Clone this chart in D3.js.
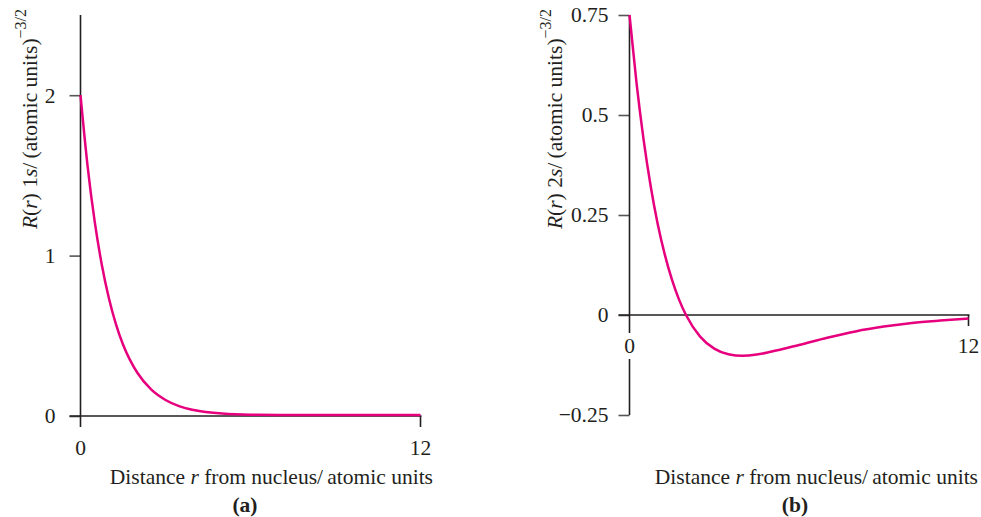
<!DOCTYPE html>
<html>
<head>
	<title>Radial wave functions</title>
	<script src="https://cdn.jsdelivr.net/npm/d3@7/dist/d3.min.js"></script>
	<style type="text/css">
		body { margin: 0; background: #fff; }
		svg text { font-family: 'Liberation Serif', 'DejaVu Serif', serif; fill: #231f20; }
	</style>
</head>
<body>

	<svg width=981 height=517 class="orbitals"></svg>
	<script type="text/javascript">

		// distance r (atomic units) where the curves were read
		r_1s = [0, 0.25, 0.5, 0.75, 1, 1.25, 1.5, 1.75, 2, 2.5, 3, 3.5, 4, 5, 6, 7, 8, 10, 12]
		R_1s = [2.0, 1.558, 1.213, 0.945, 0.736, 0.573, 0.446, 0.348, 0.271, 0.164, 0.100, 0.060, 0.037, 0.015, 0.008, 0.007, 0.007, 0.007, 0.007]

		r_2s = [0, 0.25, 0.5, 0.75, 1, 1.25, 1.5, 1.75, 2, 2.5, 3, 3.5, 4, 4.5, 5, 6, 7, 8, 9, 10, 11, 12]
		R_2s = [0.75, 0.579, 0.438, 0.322, 0.227, 0.151, 0.089, 0.039, 0.0, -0.054, -0.084, -0.098, -0.102, -0.099, -0.092, -0.075, -0.057, -0.041, -0.029, -0.020, -0.014, -0.009]

		xticks = [0, 12]
		yticks_a = [0, 1, 2]
		yticks_b = [-0.25, 0, 0.25, 0.5, 0.75]
		ytick_labels_b = ['\u22120.25', '0', '0.25', '0.5', '0.75']

		curve_color = '#e6007e'
		axis_color = '#231f20'
		fs = 21.5
		svg = d3.select('.orbitals')

		function yTitle(g, x, y, orb){
			t = g.append('text')
				.attr('transform', 'translate('+x+','+y+') rotate(-90)')
				.attr('text-anchor', 'middle')
				.attr('font-size', fs)
			t.append('tspan').attr('font-style', 'italic').text('R')
			t.append('tspan').text('(')
			t.append('tspan').attr('font-style', 'italic').text('r')
			t.append('tspan').text(') ' + orb[0])
			t.append('tspan').attr('font-style', 'italic').text(orb[1])
			t.append('tspan').text('/\u2009(atomic units)')
			t.append('tspan').attr('font-size', 16).attr('dy', -11).text('\u22123/2')
		}

		function xTitle(g, x, y, letter, cx){
			t = g.append('text')
				.attr('x', x).attr('y', y)
				.attr('text-anchor', 'end')
				.attr('font-size', fs)
			t.append('tspan').text('Distance ')
			t.append('tspan').attr('font-style', 'italic').text('r')
			t.append('tspan').text(' from nucleus/\u2009atomic units')
			g.append('text')
				.attr('x', cx).attr('y', y + 28)
				.attr('text-anchor', 'middle')
				.attr('font-size', fs)
				.attr('font-weight', 'bold')
				.text('(' + letter + ')')
		}

		function drawCurve(g, xs, ys, x, y){
			pts = xs.map(function(d, i){ return [d, ys[i]] })
			g.append('path')
				.datum(pts)
				.attr('fill', 'none')
				.attr('stroke', curve_color)
				.attr('stroke-width', 2.5)
				.attr('d', d3.line()
					.x(function(d){ return x(d[0]) })
					.y(function(d){ return y(d[1]) })
					.curve(d3.curveMonotoneX))
		}

		function line(g, x1, y1, x2, y2){
			g.append('line')
				.attr('x1', x1).attr('y1', y1)
				.attr('x2', x2).attr('y2', y2)
				.attr('stroke', axis_color)
				.attr('stroke-width', 1.6)
		}

		function styleAxis(ax){
			ax.select('.domain').remove()
			ax.selectAll('.tick line').attr('stroke', '#555').attr('stroke-width', 1.6)
			ax.selectAll('.tick text')
				.attr('font-family', "'Liberation Serif', serif")
				.attr('font-size', fs)
				.attr('fill', '#231f20')
		}

		// ---- panel (a) : 1s ----
		ga = svg.append('g')
		xa = d3.scaleLinear().domain([0, 12]).range([80.5, 420.5])
		ya = d3.scaleLinear().domain([0, 2.5]).range([416, 15])

		axa = ga.append('g')
			.attr('transform', 'translate(80.5,0)')
			.call(d3.axisLeft(ya).tickValues(yticks_a).tickSize(11).tickPadding(14).tickFormat(d3.format('d')))
		styleAxis(axa)

		line(ga, xa(0), ya(2.5), xa(0), ya(0) + 11)
		line(ga, xa(0) - 11, ya(0), xa(12) + 1, ya(0))
		line(ga, xa(12), ya(0), xa(12), ya(0) + 11)

		ga.selectAll('.xlab')
			.data(xticks)
			.enter()
			.append('text')
			.attr('x', function(d){ return xa(d) })
			.attr('y', ya(0) + 39)
			.attr('text-anchor', 'middle')
			.attr('font-size', fs)
			.text(function(d){ return d })

		drawCurve(ga, r_1s, R_1s, xa, ya)
		yTitle(ga, 37, 119, ['1', 's'])
		xTitle(ga, 433, 484, 'a', 245)

		// ---- panel (b) : 2s ----
		gb = svg.append('g')
		xb = d3.scaleLinear().domain([0, 12]).range([629.5, 968.5])
		yb = d3.scaleLinear().domain([-0.25, 0.75]).range([415, 15])

		axb = gb.append('g')
			.attr('transform', 'translate(629.5,0)')
			.call(d3.axisLeft(yb).tickValues(yticks_b).tickSize(11).tickPadding(10)
				.tickFormat(function(d, i){ return ytick_labels_b[i] }))
		styleAxis(axb)

		line(gb, xb(0), yb(0.75), xb(0), yb(0) + 18)
		line(gb, xb(0), yb(0) + 44, xb(0), yb(-0.25))
		line(gb, xb(0) - 11, yb(0), xb(12) + 1, yb(0))
		line(gb, xb(12), yb(0), xb(12), yb(0) + 11)

		gb.selectAll('.xlab')
			.data(xticks)
			.enter()
			.append('text')
			.attr('x', function(d){ return xb(d) })
			.attr('y', yb(0) + 38)
			.attr('text-anchor', 'middle')
			.attr('font-size', fs)
			.text(function(d){ return d })

		drawCurve(gb, r_2s, R_2s, xb, yb)
		yTitle(gb, 562, 119, ['2', 's'])
		xTitle(gb, 978, 484, 'b', 795)

	</script>

</body>
</html>
